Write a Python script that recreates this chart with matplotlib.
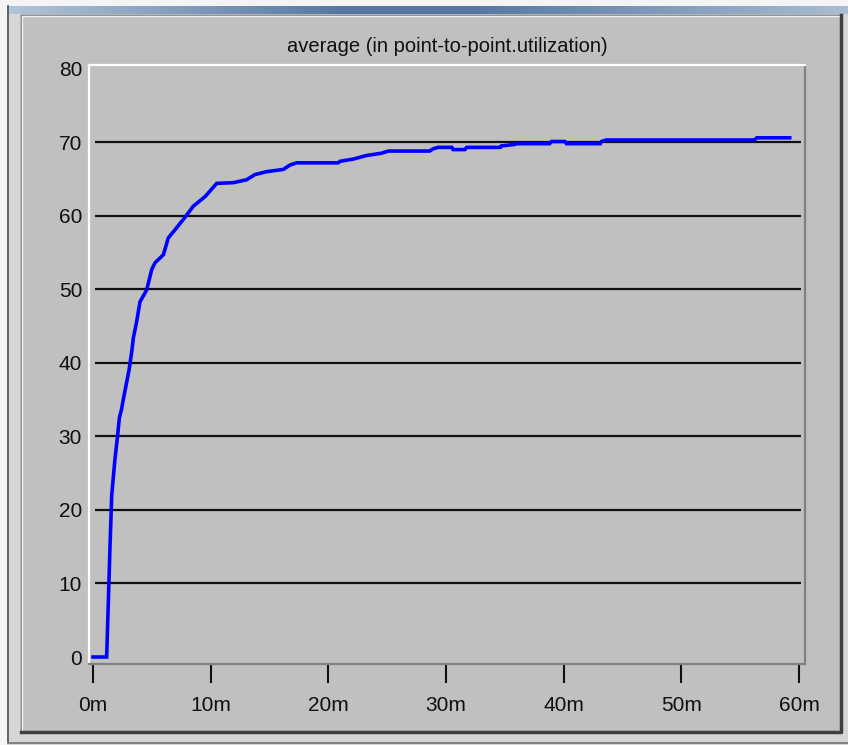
import matplotlib
matplotlib.use("Agg")
import matplotlib.pyplot as plt
import numpy as np
from matplotlib.patches import Rectangle

# utilization samples: minutes, average %
minutes = [0.0, 1.16, 1.30, 1.44, 1.59, 1.73, 1.87, 2.07, 2.24, 2.44, 2.57,
           3.06, 3.29, 3.43, 3.71, 3.99, 4.56, 4.99, 5.27, 5.98, 6.40, 6.97,
           7.82, 8.52, 9.52, 10.51, 11.92, 13.06, 13.76, 14.76, 16.17, 16.74,
           17.30, 20.84, 20.98, 22.10, 23.25, 24.50, 25.10, 28.60, 28.90,
           29.30, 30.50, 30.60, 31.60, 31.75, 34.60, 34.70, 35.85, 36.00,
           38.80, 38.97, 40.10, 40.24, 43.10, 43.20, 43.60, 56.20, 56.40, 59.20]
average = [0.0, 0.0, 7.3, 14.8, 22.0, 24.5, 27.0, 29.8, 32.5, 33.8, 35.0,
           39.0, 41.5, 43.4, 45.6, 48.3, 49.9, 52.7, 53.6, 54.7, 57.0, 58.1,
           59.8, 61.3, 62.6, 64.4, 64.5, 64.9, 65.6, 66.0, 66.3, 66.9,
           67.2, 67.2, 67.4, 67.7, 68.2, 68.5, 68.8, 68.8, 69.1,
           69.3, 69.3, 69.0, 69.0, 69.3, 69.3, 69.5, 69.7, 69.8,
           69.8, 70.1, 70.1, 69.8, 69.8, 70.1, 70.3, 70.3, 70.6, 70.6]

x_ticks = [0, 10, 20, 30, 40, 50, 60]
x_labels = ["0m", "10m", "20m", "30m", "40m", "50m", "60m"]
y_ticks = [0, 10, 20, 30, 40, 50, 60, 70, 80]
grid_levels = [10, 20, 30, 40, 50, 60, 70]

W, H = 848, 745
plt.rcParams["font.family"] = ["Liberation Sans", "DejaVu Sans"]

fig = plt.figure(figsize=(W / 100, H / 100), dpi=100)
fig.patch.set_facecolor("#d6d6d6")

# window chrome, drawn in pixel coordinates
bg = fig.add_axes([0, 0, 1, 1], zorder=0)
bg.set_xlim(0, W)
bg.set_ylim(H, 0)
bg.axis("off")
bg.add_patch(Rectangle((0, 0), 7, H, color="#f4f4f4", lw=0))
bg.add_patch(Rectangle((0, 0), W, 6, color="#f4f4f4", lw=0))
grad = np.interp(np.linspace(0, 1, 256), [0, 0.4, 0.55, 1], [0, 1, 1, 0.1])
c0 = np.array([0.70, 0.77, 0.85])
c1 = np.array([0.33, 0.47, 0.64])
img = c0[None, :] + (c1 - c0)[None, :] * grad[:, None]
bg.imshow(img[None, :, :], extent=(7, W, 14, 6), aspect="auto", zorder=1)
bg.plot([7.5, 7.5], [6, 742], color="#505050", lw=1.2)
bg.plot([7.5, W], [742.5, 742.5], color="#707070", lw=1.2)
bg.add_patch(Rectangle((20, 14), 822, 719, facecolor="#c0c0c0", lw=0, zorder=2))
bg.plot([20.5, 20.5, 841], [733, 14.5, 14.5], color="#808080", lw=1.0, zorder=3)
bg.plot([22, 22, 839], [731, 16, 16], color="#f0f0f0", lw=1.0, zorder=3)
bg.plot([21, 840.5, 840.5], [732, 732, 15], color="#404040", lw=2.5, zorder=3)

ax = fig.add_axes([89 / W, 1 - 664 / H, (805 - 89) / W, (664 - 65) / H], zorder=1)
ax.set_facecolor("#c0c0c0")
ax.hlines(grid_levels, 0.15, 60.2, color="#101010", lw=1.6, zorder=1)
ax.plot(minutes, average, color="#0000ff", lw=2.6, solid_joinstyle="miter", zorder=3)

ax.set_xlim(-0.34, 60.5)
ax.set_ylim(-0.95, 80.5)
ax.set_xticks(x_ticks)
ax.set_xticklabels(x_labels)
ax.set_yticks(y_ticks)
ax.tick_params(axis="x", length=14, width=1.5, color="#101010", pad=9,
               labelsize=15, labelcolor="#101010")
ax.tick_params(axis="y", length=0, pad=5, labelsize=15, labelcolor="#101010")

ax.spines["top"].set_color("#ffffff")
ax.spines["left"].set_color("#ffffff")
ax.spines["bottom"].set_color("#808080")
ax.spines["right"].set_color("#808080")
for s in ax.spines.values():
    s.set_linewidth(1.6)

fig.text(447 / W, 1 - 47 / H, "average (in point-to-point.utilization)",
         ha="center", va="center", fontsize=14.5, color="#101010")

fig.savefig("out.png", dpi=100)
